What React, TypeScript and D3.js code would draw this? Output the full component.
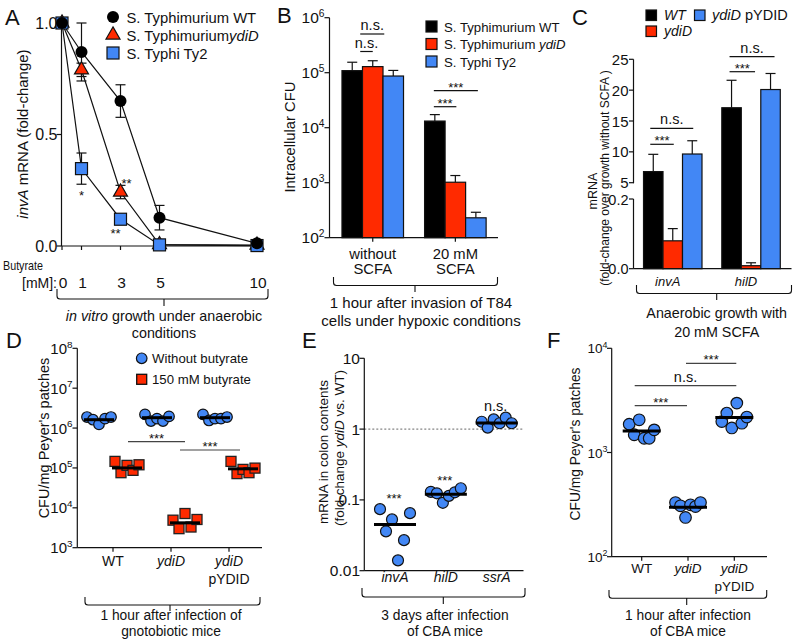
import React from 'react';
import * as d3 from 'd3';

const RED = '#FF2A00';
const BLUE = '#4287F5';
const INK = '#111';
const FONT = '"Liberation Sans", Arial, Helvetica, sans-serif';

// ---------- Panel A data ----------
const aButyrate = [0, 1, 3, 5, 10];
const aWT = [1.0, 0.87, 0.65, 0.127, 0.012];
const aWTErr = [0, 0.13, 0.073, 0.055, 0];
const aYdiD = [1.0, 0.79, 0.242, 0.006, 0.004];
const aYdiDErr = [0, 0.03, 0.03, 0, 0];
const aTy2 = [1.0, 0.347, 0.12, 0.005, 0.002];
const aTy2Err = [0, 0.07, 0.012, 0, 0];
const aYTicks = [0, 0.5, 1.0];

// ---------- Panel B data ----------
const bConditions = ['without SCFA', '20 mM SCFA'];
const bConditionLines = [['without', 'SCFA'], ['20 mM', 'SCFA']];
const bStrains = ['WT', 'ydiD', 'Ty2'];
const bWT = [1.09e5, 1.32e4];
const bWTUpper = [1.55e5, 1.73e4];
const bYdiD = [1.29e5, 1.02e3];
const bYdiDUpper = [1.65e5, 1.35e3];
const bTy2 = [8.7e4, 2.3e2];
const bTy2Upper = [1.1e5, 2.9e2];
const bYExp = [2, 3, 4, 5, 6];

// ---------- Panel C data ----------
const cGenes = ['invA', 'hilD'];
const cStrains = ['WT', 'ydiD', 'pYDID'];
const cWT = [6.8, 17.15];
const cWTUpper = [9.6, 21.6];
const cYdiD = [0.08, 0.0086];
const cYdiDUpper = [0.115, 0.017];
const cComp = [9.65, 20.1];
const cCompUpper = [11.8, 22.7];
const cUpperTicks = [5, 10, 15, 20, 25];
const cLowerTicks = [0, 0.2];

// ---------- Panel D data ----------
const dStrains = ['WT', 'ydiD', 'ydiD pYDID'];
const dWithout = [
  [1.89e6, 1.62e6, 1.24e6, 1.72e6, 1.89e6],
  [2.2e6, 1.5e6, 1.72e6, 1.5e6, 1.96e6],
  [2.2e6, 1.55e6, 1.72e6, 1.72e6, 1.89e6],
];
const dWithoutMean = [1.62e6, 1.82e6, 1.82e6];
const dButyrate = [
  [1.46e5, 7.6e4, 1.16e5, 8.7e4, 1.2e5],
  [4.9e3, 3.0e3, 7.2e3, 3.3e3, 5.1e3],
  [1.46e5, 7.2e4, 9.2e4, 7.6e4, 9.9e4],
];
const dButyrateMean = [1.0e5, 4.2e3, 9.5e4];
const dYExp = [3, 4, 5, 6, 7, 8];

// ---------- Panel E data ----------
const eGenes = ['invA', 'hilD', 'ssrA'];
const eValues = [
  [0.074, 0.036, 0.053, 0.014, 0.027, 0.065],
  [0.13, 0.124, 0.091, 0.114, 0.128, 0.146],
  [1.27, 1.05, 1.37, 1.21, 1.45, 1.21],
];
const eMeans = [0.045, 0.12, 1.22];
const eTicks = [0.01, 0.1, 1, 10];
const eTickLabels = ['0.01', '0.1', '1', '10'];
const eSig = ['***', '***', 'n.s.'];

// ---------- Panel F data ----------
const fStrains = ['WT', 'ydiD', 'ydiD pYDID'];
const fValues = [
  [1.87e3, 1.48e3, 2.06e3, 1.37e3, 1.37e3, 1.65e3],
  [331, 308, 238, 315, 303, 331],
  [1.98e3, 2.39e3, 1.72e3, 2.98e3, 1.91e3, 2.19e3],
];
const fMeans = [1.61e3, 299, 2.17e3];
const fYExp = [2, 3, 4];

// ---------- helpers ----------
function Pow({ x, y, e, size = 14 }: { x: number; y: number; e: number; size?: number }) {
  return (
    <text x={x} y={y} textAnchor="end" fontSize={size}>
      10<tspan dy={-size * 0.42} fontSize={size * 0.66}>{e}</tspan>
    </text>
  );
}

function Brace({ x1, x2, cx, y0, y1, y2 }: { x1: number; x2: number; cx: number; y0: number; y1: number; y2: number }) {
  const r = 3;
  const d = `M${x1},${y0} L${x1},${y1 - r} Q${x1},${y1} ${x1 + r},${y1} L${x2 - r},${y1} Q${x2},${y1} ${x2},${y1 - r} L${x2},${y0} M${cx},${y1} L${cx},${y2}`;
  return <path d={d} fill="none" stroke={INK} strokeWidth={1.1} />;
}

function StrainLabel({ name, x, y, size = 14 }: { name: string; x: number; y: number; size?: number }) {
  if (name === 'WT') return <text x={x} y={y} textAnchor="middle" fontSize={size}>WT</text>;
  if (name === 'ydiD') return <text x={x} y={y} textAnchor="middle" fontSize={size} fontStyle="italic">ydiD</text>;
  return (
    <g>
      <text x={x} y={y} textAnchor="middle" fontSize={size} fontStyle="italic">ydiD</text>
      <text x={x} y={y + 17.5} textAnchor="middle" fontSize={size}>pYDID</text>
    </g>
  );
}

function Sig({ x1, x2, y, label, color = INK }: { x1: number; x2: number; y: number; label: string; color?: string }) {
  const stars = label !== 'n.s.';
  return (
    <g>
      <line x1={x1} x2={x2} y1={y} y2={y} stroke={color} strokeWidth={1.2} />
      <text x={(x1 + x2) / 2} y={stars ? y + 1 : y - 4} textAnchor="middle" fontSize={stars ? 13 : 14.5}>{label}</text>
    </g>
  );
}

function ErrBar({ x, y1, y2, w = 5 }: { x: number; y1: number; y2: number; w?: number }) {
  return (
    <g stroke={INK} strokeWidth={1.2}>
      <line x1={x} x2={x} y1={y1} y2={y2} />
      <line x1={x - w} x2={x + w} y1={y2} y2={y2} />
    </g>
  );
}

// ---------- Panel A ----------
function PanelA() {
  const xA = d3.scaleLinear().domain([0, 10]).range([62, 257]);
  const yA = d3.scaleLinear().domain([0, 1]).range([246, 23]);
  const line = (vals: number[]) =>
    d3.line<number>().x((_, i) => xA(aButyrate[i])).y((d) => yA(d))(vals) || '';
  const tri = d3.symbol(d3.symbolTriangle, 85)() || '';
  const series = [
    { vals: aYdiD, err: aYdiDErr, shape: 'tri' },
    { vals: aTy2, err: aTy2Err, shape: 'sq' },
    { vals: aWT, err: aWTErr, shape: 'circ' },
  ];
  const marker = (shape: string, x: number, y: number) => {
    if (shape === 'circ') return <circle cx={x} cy={y} r={6} fill="#000" />;
    if (shape === 'sq') return <rect x={x - 6} y={y - 6} width={12} height={12} fill={BLUE} stroke={INK} strokeWidth={1.2} />;
    return <path d={tri} transform={`translate(${x},${y})`} fill={RED} stroke={INK} strokeWidth={1.2} />;
  };
  return (
    <g>
      <text x={5} y={25} fontSize={22}>A</text>
      <line x1={61.5} x2={61.5} y1={yA(1)} y2={yA(0)} stroke={INK} strokeWidth={1.2} />
      <line x1={61.5} x2={263} y1={yA(0)} y2={yA(0)} stroke={INK} strokeWidth={1.2} />
      {aYTicks.map((t) => (
        <g key={t}>
          <line x1={56.5} x2={61.5} y1={yA(t)} y2={yA(t)} stroke={INK} strokeWidth={1.2} />
          <text x={57.5} y={yA(t) + 5.5} textAnchor="end" fontSize={16}>{d3.format('.1f')(t)}</text>
        </g>
      ))}
      {aButyrate.map((b) => (
        <g key={b}>
          <line x1={xA(b)} x2={xA(b)} y1={yA(0)} y2={yA(0) + 4} stroke={INK} strokeWidth={1.2} />
          <text x={xA(b) + 1} y={288} textAnchor="middle" fontSize={15.5}>{b}</text>
        </g>
      ))}
      <text x={3} y={270} fontSize={13.5} textLength={40} lengthAdjust="spacingAndGlyphs">Butyrate</text>
      <text x={57} y={288} fontSize={14} textAnchor="end">[mM]:</text>
      <text transform={`translate(28,134) rotate(-90)`} textAnchor="middle" fontSize={15}>
        <tspan fontStyle="italic">invA</tspan> mRNA (fold-change)
      </text>
      {series.map((s, i) => (
        <path key={i} d={line(s.vals)} fill="none" stroke={INK} strokeWidth={1.2} />
      ))}
      {series.map((s, i) =>
        s.vals.map((v, j) =>
          s.err[j] > 0 ? (
            <g key={`${i}-${j}`}>
              <ErrBar x={xA(aButyrate[j])} y1={yA(v)} y2={yA(v + s.err[j])} />
              <ErrBar x={xA(aButyrate[j])} y1={yA(v)} y2={yA(v - s.err[j])} />
            </g>
          ) : null
        )
      )}
      {series.map((s, i) => s.vals.map((v, j) => <g key={`m${i}-${j}`}>{marker(s.shape, xA(aButyrate[j]), yA(v))}</g>))}
      <text x={xA(1)} y={200} textAnchor="middle" fontSize={13}>*</text>
      <text x={xA(3) + 6} y={188} textAnchor="middle" fontSize={13}>**</text>
      <text x={xA(3) - 5} y={238} textAnchor="middle" fontSize={13}>**</text>
      {marker('circ', 113, 17)}
      <text x={126.5} y={22.5} fontSize={14.8}>S. Typhimurium WT</text>
      {marker('tri', 113, 35)}
      <text x={126.5} y={40.5} fontSize={14.8}>S. Typhimurium<tspan fontStyle="italic">ydiD</tspan></text>
      {marker('sq', 113, 53)}
      <text x={126.5} y={58.5} fontSize={14.8}>S. Typhi Ty2</text>
      <Brace x1={57} x2={268} cx={164} y0={289} y1={299} y2={306} />
      <text x={164} y={321} textAnchor="middle" fontSize={14.3}>
        <tspan fontStyle="italic">in vitro</tspan> growth under anaerobic
      </text>
      <text x={164} y={338} textAnchor="middle" fontSize={14.3}>conditions</text>
    </g>
  );
}

// ---------- Panel B ----------
function PanelB() {
  const y0 = 237.7;
  const yB = d3.scaleLog().domain([1e2, 1e6]).range([y0, 17.7]);
  const xB = d3.scaleBand().domain(bConditions).range([329.5, 498.6]).paddingInner(0.255).paddingOuter(0.151);
  const sub = d3.scaleBand().domain(bStrains).range([0, xB.bandwidth()]);
  const groups = [
    { key: 'WT', vals: bWT, up: bWTUpper, fill: '#000' },
    { key: 'ydiD', vals: bYdiD, up: bYdiDUpper, fill: RED },
    { key: 'Ty2', vals: bTy2, up: bTy2Upper, fill: BLUE },
  ];
  const bx = (c: string, s: string) => (xB(c) || 0) + (sub(s) || 0);
  const cx = (c: string, s: string) => bx(c, s) + sub.bandwidth() / 2;
  return (
    <g>
      <text x={277} y={23} fontSize={22}>B</text>
      {groups.map((g) =>
        bConditions.map((c, i) => (
          <g key={g.key + c}>
            <ErrBar x={cx(c, g.key)} y1={yB(g.vals[i])} y2={yB(g.up[i])} />
            <rect x={bx(c, g.key)} y={yB(g.vals[i])} width={sub.bandwidth()} height={y0 - yB(g.vals[i])} fill={g.fill} stroke={INK} strokeWidth={1.2} />
          </g>
        ))
      )}
      <line x1={329.5} x2={329.5} y1={17.7} y2={y0} stroke={INK} strokeWidth={1.2} />
      <line x1={329.5} x2={498} y1={y0} y2={y0} stroke={INK} strokeWidth={1.2} />
      {bYExp.map((e) => (
        <g key={e}>
          <line x1={324.5} x2={329.5} y1={yB(10 ** e)} y2={yB(10 ** e)} stroke={INK} strokeWidth={1.2} />
          <Pow x={324.5} y={yB(10 ** e) + 5.5} e={e} size={15.5} />
        </g>
      ))}
      {bConditions.map((c, i) => {
        const mx = (xB(c) || 0) + xB.bandwidth() / 2;
        return (
          <g key={c}>
            <line x1={mx} x2={mx} y1={y0} y2={y0 + 4} stroke={INK} strokeWidth={1.2} />
            {bConditionLines[i].map((l, k) => (
              <text key={k} x={mx} y={258.5 + k * 15.5} textAnchor="middle" fontSize={14.8}>{l}</text>
            ))}
          </g>
        );
      })}
      <text transform={`translate(295,137) rotate(-90)`} textAnchor="middle" fontSize={14.8}>Intracellular CFU</text>
      <Sig x1={cx(bConditions[0], 'WT') + 8} x2={cx(bConditions[0], 'Ty2') - 9} y={34} label="n.s." />
      <Sig x1={cx(bConditions[0], 'WT') + 8} x2={cx(bConditions[0], 'ydiD') + 0} y={51.5} label="n.s." />
      <Sig x1={cx(bConditions[1], 'WT') - 1} x2={cx(bConditions[1], 'Ty2') + 2} y={90.7} label="***" />
      <Sig x1={cx(bConditions[1], 'WT') - 1} x2={cx(bConditions[1], 'ydiD') + 1} y={106.7} label="***" />
      {groups.map((g, i) => (
        <g key={g.key}>
          <rect x={426} y={21 + i * 17.5} width={11} height={11} fill={g.fill} stroke={INK} strokeWidth={1.2} />
          <text x={444} y={31.5 + i * 17.5} fontSize={13.2}>
            {i === 0 ? 'S. Typhimurium WT' : i === 1 ? <>S. Typhimurium <tspan fontStyle="italic">ydiD</tspan></> : 'S. Typhi Ty2'}
          </text>
        </g>
      ))}
      <Brace x1={333.5} x2={497.5} cx={415} y0={277} y1={285.5} y2={292} />
      <text x={421} y={308} textAnchor="middle" fontSize={15}>1 hour after invasion of T84</text>
      <text x={421} y={326} textAnchor="middle" fontSize={15}>cells under hypoxic conditions</text>
    </g>
  );
}

// ---------- Panel C ----------
function PanelC() {
  const y0 = 268.7;
  const yU = d3.scaleLinear().domain([5, 25]).range([182.7, 59.3]);
  const yL = d3.scaleLinear().domain([0, 0.2]).range([y0, 199]);
  const yC = (v: number) => (v <= 0.2 ? yL(v) : yU(v));
  const xC = d3.scaleBand().domain(cGenes).range([633.5, 790.3]).paddingInner(0.253).paddingOuter(0.128);
  const sub = d3.scaleBand().domain(cStrains).range([0, xC.bandwidth()]);
  const groups = [
    { key: 'WT', vals: cWT, up: cWTUpper, fill: '#000' },
    { key: 'ydiD', vals: cYdiD, up: cYdiDUpper, fill: RED },
    { key: 'pYDID', vals: cComp, up: cCompUpper, fill: BLUE },
  ];
  const bx = (c: string, s: string) => (xC(c) || 0) + (sub(s) || 0);
  const cx = (c: string, s: string) => bx(c, s) + sub.bandwidth() / 2;
  return (
    <g>
      <text x={572} y={25} fontSize={22}>C</text>
      {groups.map((g) =>
        cGenes.map((c, i) => (
          <g key={g.key + c}>
            <ErrBar x={cx(c, g.key)} y1={yC(g.vals[i])} y2={yC(g.up[i])} />
            <rect x={bx(c, g.key)} y={yC(g.vals[i])} width={sub.bandwidth()} height={y0 - yC(g.vals[i])} fill={g.fill} stroke={INK} strokeWidth={1.2} />
          </g>
        ))
      )}
      <line x1={633.5} x2={633.5} y1={yU(25)} y2={yU(5) + 0.6} stroke={INK} strokeWidth={1.2} />
      <line x1={633.5} x2={633.5} y1={yL(0.2)} y2={y0} stroke={INK} strokeWidth={1.2} />
      <line x1={633.5} x2={791.5} y1={y0} y2={y0} stroke={INK} strokeWidth={1.2} />
      {cUpperTicks.map((t) => (
        <g key={'u' + t}>
          <line x1={629} x2={633.5} y1={yU(t)} y2={yU(t)} stroke={INK} strokeWidth={1.2} />
          <text x={628.5} y={yU(t) + 5.5} textAnchor="end" fontSize={15}>{t}</text>
        </g>
      ))}
      {cLowerTicks.map((t) => (
        <g key={'l' + t}>
          <line x1={629} x2={633.5} y1={yL(t)} y2={yL(t)} stroke={INK} strokeWidth={1.2} />
          <text x={628.5} y={yL(t) + 5.5} textAnchor="end" fontSize={14.5}>{d3.format('.1f')(t)}</text>
        </g>
      ))}
      {cGenes.map((c) => {
        const mx = (xC(c) || 0) + xC.bandwidth() / 2;
        return (
          <text key={c} x={mx - 5} y={286} textAnchor="middle" fontSize={13} fontStyle="italic">{c}</text>
        );
      })}
      <text transform={`translate(596.5,191) rotate(-90)`} textAnchor="middle" fontSize={12.5}>mRNA</text>
      <text transform={`translate(608.5,178) rotate(-90)`} textAnchor="middle" fontSize={12}>(fold-change over growth without SCFA )</text>
      <Sig x1={cx('invA', 'WT') - 3} x2={cx('invA', 'pYDID') + 1} y={128.3} label="n.s." />
      <Sig x1={cx('invA', 'WT') - 3} x2={cx('invA', 'ydiD') + 1} y={144.3} label="***" />
      <Sig x1={cx('hilD', 'WT') - 2} x2={cx('hilD', 'pYDID') + 4} y={56.7} label="n.s." />
      <Sig x1={cx('hilD', 'WT') - 2} x2={cx('hilD', 'ydiD') + 4} y={71.7} label="***" />
      <rect x={646} y={10} width={10.5} height={10.5} fill="#000" stroke={INK} strokeWidth={1.2} />
      <text x={664} y={20} fontSize={14} fontStyle="italic">WT</text>
      <rect x={694.5} y={10} width={10.5} height={10.5} fill={BLUE} stroke={INK} strokeWidth={1.2} />
      <text x={712} y={20} fontSize={14.5}><tspan fontStyle="italic">ydiD</tspan> pYDID</text>
      <rect x={646} y={26} width={10.5} height={10.5} fill={RED} stroke={INK} strokeWidth={1.2} />
      <text x={664} y={36} fontSize={14} fontStyle="italic">ydiD</text>
      <Brace x1={636.5} x2={791.5} cx={716.7} y0={285} y1={293.5} y2={300} />
      <text x={716.7} y={318} textAnchor="middle" fontSize={14.3}>Anaerobic growth with</text>
      <text x={716.7} y={337} textAnchor="middle" fontSize={14.3}>20 mM SCFA</text>
    </g>
  );
}

// ---------- Panel D ----------
function PanelD() {
  const y0 = 547.7;
  const yD = d3.scaleLog().domain([1e3, 1e8]).range([y0, 348.3]);
  const xD = d3.scalePoint().domain(dStrains).range([113, 229]);
  const step = 6;
  const off = 14;
  const pos = (i: number, n: number) => (i - (n - 1) / 2) * step;
  return (
    <g>
      <text x={6} y={348} fontSize={22}>D</text>
      <line x1={77.3} x2={77.3} y1={348.3} y2={y0} stroke={INK} strokeWidth={1.2} />
      <line x1={77.3} x2={262} y1={y0} y2={y0} stroke={INK} strokeWidth={1.2} />
      {dYExp.map((e) => (
        <g key={e}>
          <line x1={72.5} x2={77.3} y1={yD(10 ** e)} y2={yD(10 ** e)} stroke={INK} strokeWidth={1.2} />
          <Pow x={72.5} y={yD(10 ** e) + 5.5} e={e} size={15} />
        </g>
      ))}
      {dStrains.map((s) => (
        <g key={s}>
          <line x1={xD(s)} x2={xD(s)} y1={y0} y2={y0 + 4} stroke={INK} strokeWidth={1.2} />
          <StrainLabel name={s === 'ydiD pYDID' ? 'comp' : s} x={xD(s) || 0} y={566} />
        </g>
      ))}
      <text transform={`translate(49,438) rotate(-90)`} textAnchor="middle" fontSize={14.5}>CFU/mg Peyer's patches</text>
      {dStrains.map((s, k) => {
        const cxw = (xD(s) || 0) - off;
        const cxb = (xD(s) || 0) + off;
        return (
          <g key={'p' + s}>
            {dWithout[k].map((v, i) => (
              <circle key={'c' + i} cx={cxw + pos(i, dWithout[k].length)} cy={yD(v)} r={5.3} fill={BLUE} stroke={INK} strokeWidth={1.2} />
            ))}
            <line x1={cxw - 15} x2={cxw + 15} y1={yD(dWithoutMean[k])} y2={yD(dWithoutMean[k])} stroke="#000" strokeWidth={3} />
            {dButyrate[k].map((v, i) => (
              <rect key={'s' + i} x={cxb + pos(i, dButyrate[k].length) - 5} y={yD(v) - 5} width={10} height={10} fill={RED} stroke="#222" strokeWidth={1.3} />
            ))}
            <line x1={cxb - 15} x2={cxb + 15} y1={yD(dButyrateMean[k])} y2={yD(dButyrateMean[k])} stroke="#000" strokeWidth={3} />
          </g>
        );
      })}
      <Sig x1={(xD('WT') || 0) + 15} x2={(xD('ydiD') || 0) + 14} y={441.7} label="***" color="#444" />
      <Sig x1={(xD('ydiD') || 0) + 9} x2={(xD('ydiD pYDID') || 0) + 11} y={450} label="***" color="#444" />
      <circle cx={141.7} cy={358.3} r={5.3} fill={BLUE} stroke={INK} strokeWidth={1.2} />
      <text x={152} y={363} fontSize={13.2}>Without butyrate</text>
      <rect x={136.7} y={374.3} width={10} height={10} fill={RED} stroke={INK} strokeWidth={1.3} />
      <text x={152} y={384} fontSize={13.2}>150 mM butyrate</text>
      <Brace x1={85} x2={260} cx={170} y0={597} y1={605} y2={611} />
      <text x={171} y={620} textAnchor="middle" fontSize={13.8}>1 hour after infection of</text>
      <text x={171} y={636} textAnchor="middle" fontSize={13.8}>gnotobiotic mice</text>
    </g>
  );
}

// ---------- Panel E ----------
function PanelE() {
  const y0 = 570.7;
  const yE = d3.scaleLog().domain([0.01, 10]).range([y0, 358.3]);
  const xE = d3.scalePoint().domain(eGenes).range([395, 496.7]);
  const step = 6;
  const sigY = [503, 485, 411];
  return (
    <g>
      <text x={302} y={348} fontSize={22}>E</text>
      <line x1={364.3} x2={523.5} y1={yE(1)} y2={yE(1)} stroke="#666" strokeWidth={1} strokeDasharray="2,2" />
      <line x1={364.3} x2={364.3} y1={358.3} y2={y0} stroke={INK} strokeWidth={1.2} />
      <line x1={364.3} x2={523.5} y1={y0} y2={y0} stroke={INK} strokeWidth={1.2} />
      {eTicks.map((t, i) => (
        <g key={t}>
          <line x1={359.5} x2={364.3} y1={yE(t)} y2={yE(t)} stroke={INK} strokeWidth={1.2} />
          <text x={360} y={yE(t) + 5.5} textAnchor="end" fontSize={15.5}>{eTickLabels[i]}</text>
        </g>
      ))}
      {eGenes.map((g, k) => {
        const c = xE(g) || 0;
        const n = eValues[k].length;
        return (
          <g key={g}>
            <text x={c} y={582} textAnchor="middle" fontSize={14} fontStyle="italic">{g}</text>
            {eValues[k].map((v, i) => (
              <circle key={i} cx={c + (i - (n - 1) / 2) * step} cy={yE(v)} r={5.5} fill={BLUE} stroke={INK} strokeWidth={1.2} />
            ))}
            <line x1={c - 21} x2={c + 21} y1={yE(eMeans[k])} y2={yE(eMeans[k])} stroke="#000" strokeWidth={3} />
            <text x={c - 1} y={sigY[k]} textAnchor="middle" fontSize={eSig[k] === 'n.s.' ? 14.5 : 13}>{eSig[k]}</text>
          </g>
        );
      })}
      <text transform={`translate(328,452) rotate(-90)`} textAnchor="middle" fontSize={13.5}>mRNA in colon contents</text>
      <text transform={`translate(343.5,448) rotate(-90)`} textAnchor="middle" fontSize={13.5}>
        (fold-change <tspan fontStyle="italic">ydiD</tspan> vs. WT)
      </text>
      <Brace x1={362} x2={525} cx={443.3} y0={588} y1={597} y2={604} />
      <text x={445} y={620} textAnchor="middle" fontSize={13.8}>3 days after infection</text>
      <text x={445} y={636} textAnchor="middle" fontSize={13.8}>of CBA mice</text>
    </g>
  );
}

// ---------- Panel F ----------
function PanelF() {
  const y0 = 556.7;
  const yF = d3.scaleLog().domain([1e2, 1e4]).range([y0, 348.3]);
  const xF = d3.scalePoint().domain(fStrains).range([641.7, 734.3]);
  const step = 5;
  return (
    <g>
      <text x={547} y={348} fontSize={22}>F</text>
      <line x1={611.7} x2={611.7} y1={348.3} y2={y0} stroke={INK} strokeWidth={1.2} />
      <line x1={611.7} x2={767} y1={y0} y2={y0} stroke={INK} strokeWidth={1.2} />
      {fYExp.map((e) => (
        <g key={e}>
          <line x1={607} x2={611.7} y1={yF(10 ** e)} y2={yF(10 ** e)} stroke={INK} strokeWidth={1.2} />
          <Pow x={607.5} y={yF(10 ** e) + 5} e={e} size={13.5} />
        </g>
      ))}
      {fStrains.map((s, k) => {
        const c = xF(s) || 0;
        const n = fValues[k].length;
        return (
          <g key={s}>
            <line x1={c} x2={c} y1={y0} y2={y0 + 4} stroke={INK} strokeWidth={1.2} />
            <StrainLabel name={s === 'ydiD pYDID' ? 'comp' : s} x={c} y={573} size={13.5} />
            {fValues[k].map((v, i) => (
              <circle key={i} cx={c + (i - (n - 1) / 2) * step} cy={yF(v)} r={5.8} fill={BLUE} stroke={INK} strokeWidth={1.2} />
            ))}
            <line x1={c - 19} x2={c + 19} y1={yF(fMeans[k])} y2={yF(fMeans[k])} stroke="#000" strokeWidth={3} />
          </g>
        );
      })}
      <Sig x1={(xF('ydiD') || 0) - 2} x2={(xF('ydiD pYDID') || 0) + 2} y={363.3} label="***" color="#444" />
      <Sig x1={(xF('WT') || 0) - 7} x2={(xF('ydiD pYDID') || 0) + 2} y={385.7} label="n.s." color="#444" />
      <Sig x1={(xF('WT') || 0) - 7} x2={(xF('ydiD') || 0) - 1} y={405.7} label="***" color="#444" />
      <text transform={`translate(580,444) rotate(-90)`} textAnchor="middle" fontSize={13.8}>CFU/mg Peyer's patches</text>
      <Brace x1={609} x2={766.7} cx={686.7} y0={590} y1={598.3} y2={605} />
      <text x={688} y={620} textAnchor="middle" fontSize={13.8}>1 hour after infection</text>
      <text x={688} y={636} textAnchor="middle" fontSize={13.8}>of CBA mice</text>
    </g>
  );
}

export default function App() {
  return (
    <svg
      width={800}
      height={643}
      viewBox="0 0 800 643"
      style={{ position: 'absolute', left: 0, top: 0, background: '#fff' }}
      fontFamily={FONT}
      fill={INK}
    >
      <rect width={800} height={643} fill="#fff" />
      <PanelA />
      <PanelB />
      <PanelC />
      <PanelD />
      <PanelE />
      <PanelF />
    </svg>
  );
}
